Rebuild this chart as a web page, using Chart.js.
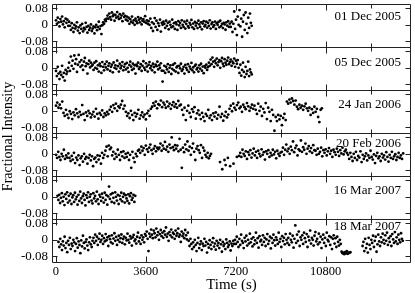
<!DOCTYPE html>
<html>
<head>
<meta charset="utf-8">
<script src="https://cdn.jsdelivr.net/npm/chart.js@4.4.1/dist/chart.umd.min.js"></script>
<style>
  body { margin: 0; background: #fff; }
  canvas { display: block; }
</style>
</head>
<body>
<canvas id="chart" width="415" height="293"></canvas>
<script>
// observation dates, one panel each
const panelLabels = ['01 Dec 2005', '05 Dec 2005', '24 Jan 2006', '20 Feb 2006', '16 Mar 2007', '18 Mar 2007'];
// first sample time and cadence of each run (s)
const startTimes = [0, 0, 0, 0, 60, 100];
const timeSteps = [35, 35, 50, 45, 35, 35];

// fractional intensity in thousandths, null = no data
const dec01 = [22, 5, 35, 12, -8, 28, 15, 40, 2, 18, -12, 30, 10, 25, -5, 15,
  -5, -25, 8, -15, -35, 0, -18, -8, 12, -28, -12, -40, -3, -20, 5, -32, -15, -22, 10, -10,
  -38, -5, -25, -14, 2, -30, -18, -8, -42, -12, 0, -26, -10, 15, -20, -6,
  -45,
  -2, 12, 5, 25, 18, 30,
  45, 30, 55, 38, 25, 60, 42, 50, 20, 48, 35, 62, 40, 28, 52, 33, 45, 18, 55, 38, 44, 25, 40,
  20, 35, 5, 28, 15, 40, 10, 22, 0, 30, 18, 8, 38, 25, 12, 32, 2, 20, 28, 15, 42, 10, 22, 5, 18,
  0, 30, -15, 12, -30, 5, 33, -10, 20, -25, 8, -5, 25, -33, 10, 0, 15,
  5, -15, 20, -5, 10, -22, 15, 0, -12, 25, -8, 8, -20, 12, 2, -25, 18, -3, 10, -15,
  22, 0, -10, 15, -18, 5, 20, -6, -14, 10, 0, 24, -12, 6, -20, 14, -4, 8, -16, 20,
  2, -10, 12, -22, 6, 18, -8, 0, 15, -14, 10, -5, 22, -18, 4, 12, -10, -2, 16, -20,
  8, 0, 14, -12, 20, -6, 5, -16, 10, 2, -24, 12, -4, 18, -10, 6,
  -10, 15, -35, 5, 65, -20, 25, -50, 40, 0, 72, -8, 30, -58, 15, 48, -25, 60, 5, -40, 35, -15, 55, 10, -5];

const dec05 = [-15, -40, 5, -28, -55, -20, -35, 10, -45, -25, -62, -10, -30, -18,
  0, 25, -15, 55, 10, 35, -5, 60, 20, 42, -20, 15, 63, 28, 5, 38, 12, -10, 30, 48, 8, 22, -28, 18, 35, 2, 25, 10,
  15, -10, 25, 0, 32, -5, 12, -18, 20, 8, -25, 28, 5, -12, 18, 2, 30, -8, 10, 22,
  -15, 5, 15, -22, 26, 0, 12, -5, 35, 8, -18, 20, -2, 10, 28, -12, 5, 18, -8, 24,
  0, -20, 14, 30, 6, -10, 20, -4, 12, -28, 16, 8, 25, -6, 2, 18, -15, 10, 32, 0,
  -10, 22, 6, -18, 14, 28, -2, 10, -12, 20, 4, -22, 16, 8, 30, -8, 12, 0, 22, -14,
  -67,
  -15, 10, -25, 5, -8, 18, -20, 0, 12, -30, -5, 15, -12, 22, -18, 2, 8, -25, 10, -3,
  20, -15, -8, 5, -28, 14, 0, -10, 18, -20, 6, -5, 24, -12, 2, -22, 10, 16, -8, 0,
  -18, 12, -4, 20, -14, 6, -26, 8, 0, 15, -10, 4,
  25, 10, 40, 18, 50, 30, 5, 35, 22, 45, 12, 28, 38, 0, 32, 48, 20, 8, 42, 25,
  15, 35, 50, 18, 28, 40, 10, 30, 22, 45, 5, 35, 20, 38,
  0, -25, 15, -38, -10, 25, -20, -45, 5, -30, -15, 30, -40, -8, -22, -32];

const jan24 = [25, 40, 15, 30, 12, 45,
  -10, -25, 5, -18, -35, -2, -15, -40, -8, -22, 8, -12, -30, -5, -20, 28, -15, -45, -8, -25,
  0, -12, -32, -18, -5, -28, 10, -15, -38, -10, -20, 2, -30, -12, -22, -5, -16,
  5, 20, -5, 28, 12, 35, 0, 22, 15, 30, 48, 10, 25,
  -5, -25, -12, -35, 0, -20, -45, -10, -28, -15, 5, -38, -22, -8, -30, -18, -42, -12, 0, -25, 10,
  20, 38, 25, 45, 12, 32, 28, 50, 18, 40, 30, 15, 45, 22, 35, 10, 28, 42, 20, 33, 15, 48, 25, 30,
  5, -20, 15, -45, 0, 25, -10, -30, 8, -5, 18, -38, -12, 2,
  -20, -40, -10, -30, -50, -15, -25, 5, -35, -22, -45, -12, -28, -8, -38, -20, 20, -30, -15, -48, -25, -5, -32, -18,
  10, 25, -2, 35, 15, 5, 28, 40, 12, 20, -5, 30, 18, 8, 38, 22, 0, 15, 30, 10, 25,
  5, -15, 35, 0, 20, -25, 10, -8, 38, -40, 15, -5, -50, 5, -20,
  -97,
  -30, -50, -20, -42, -25, -70, -35, -15, -45,
  45, 35, 55, 40, 60, 48, 30, 50,
  20, 8, 30, 15, 25, 5, 22, 35, 12,
  0, 15, -20, 8, -10, 20, -5, 10, -30, -55, 5, 12];

const feb20 = [-5, -20, 10, -15, -30, 0, -12, 20, -25, -8, -18, 2,
  -20, -35, -10, -28, 5, -45, -18, -30, -8, -55, -22, -12, -38, 0, -25, -15, -48, -20, -5, -32,
  -12, -60, -25, -18, -40, -8, -28,
  -10, -48, 5, -20, -5, 15, 35, -12, 40, 22, 30, -8, 10, -25, 0, -15, 20, -5, -30, 8, -12, 12, -20, 0,
  -15, 5, -30, -5, -68, 10, -20, -40, 0, -12, 15,
  20, 5, 35, 15, 28, -5, 40, 22, 10, 30, 45, 18, 0, 25, 38, 12, 30, 22,
  30, 50, 15, 40, 25, 58, 20, 35, 10, 45, 28, 80, 32, 18, 42,
  25, 40, 12, 73, 20, -68, 30, 8, 45, 22, 60, 15, 35, -5, 28, 50, 10, -30, 25, 38, 18, 5, 42, -20, 30, 15,
  -5, -15, 5, -22, -10, 0,
  null, null, null, null, null, null, null,
  -40, null, -75, null, -30, -55, null, -20, null, -60, null, null, -48, null, null, -15, null, -10,
  5, -15, 20, 0, -10, 12, -25, 8, -5, 18, -18, 2, 25, -8, 10, -20, 15, 0, -12, 22,
  -5, 8, -28, 12, 0, 18, -15, 5, -8, 20, -3, 10, -22, 15, 0, -10, 6,
  10, 30, -5, 20, 45, 12, 25, 0, 35, 18, 60, 8, 28, 40, -8, 22, 15, 65, 10, 32,
  20, 50, 0, 25, 38, 12, 28, 5, 42, 18,
  15, -5, 25, 0, 10, 30, -12, 18, 5, 22, -8, 12, 28, 0, 15, -15, 20, 8, -5, 25,
  10, -10, 18, 2, 30, -3, 12, 20, 5,
  -5, -25, 5, -15, -35, 0, -20, 10, -30, -10, -18, 12, -40, -5, -25, -12, 2, -32, -8, -20,
  15, -15, -28, -3, -45, -10, 5, -22, -12, -35, 0, -18, -8, -28, 8, -15, -38, -5, -20, 10,
  -25, -12, -2, -30, -15, 5, -20, -8, -25, 2];

const mar16 = [5, -15, 10, -30, -5, 18, -22, 0, -40, 12,
  -10, 22, -28, 5, -18, 15, -35, -3, 8, -25,
  20, -12, 0, -38, 10, -20, 25, -8, -30, 3,
  15, -15, -42, 8, -5, 22, -25, 0, 12, -18,
  -32, 18, -8, 5, -22, 25, -12, -35, 10, 0,
  -20, 15, -5, -28, 20, -15, 8, -38, 2, 50,
  -10, 12, -25, 18, -5, -30, 22, 0, -18, 10,
  -35, 5, -12, 20, -22, 0, 15, -28, 8, -8,
  -20, 12, -32, 3, 18, -15, -5, 10, -25, 5];

const mar18 = [-10, -35, 5, -22, -50, -8, -28, 15, -40, -15,
  -60, -5, -25, 10, -45, -18, -30, 0, -12, -55,
  -20, 8, -38, -8, -25, -65, -3, -32, 20, -15,
  -42, -10, 2, -28, -50, -12, 12, -22, -35, -5,
  10, -15, 25, -5, 15, -25, 5, 30, -10, 0,
  20, -20, 8, -8, 28, -2, 12, -30, 18, 3,
  -12, 22, -18, 6, 32, -5, 14, -25, 0, 20,
  -10, 8, 26, -15, 4, 16, -22, 10, -3, 30,
  0, -14, 18, 6, -28, 12, 24, -6, 2, -18,
  15, 35, -8, 10, -20, 22, 0, 12, -12, 28,
  20, 40, 5, -55, 30, 15, 50, 25, 8, 45,
  32, 12, 55, 22, 38, 0, 28, 48, 18, 35,
  10, 42, 25, 60, 15, 30, -5, 38, 22, 50,
  12, 35, 28, 5, 45, 20, 32, 55, 15, 25,
  -10, 40, 18, 30, 8, 48, 22, 2, 35,
  -5, -30, 5, -20, -45, -12, -35, 0, -25, -55,
  -15, 10, -40, -22, -8, -50, -18, -30, 5, -28,
  -10, -62, -20, -38, -2, -25, -45, -12, 8, -33,
  -18, -48, -5, -28, -15, -40, 0, -22, -58, -10,
  -30, -20, -45, 2, -15, -35, -25, -8, -52, -18,
  -30, -5, -20,
  0, -20, 15, -10, -35, 5, -25, 25, -5, -15,
  -40, 10, -8, 20, -28, 0, -18, 30, -12, 5,
  -32, 12, -22, -3, 35, -15, 8, -38, 18, -8,
  0, -25, 22, -10, 10, -30, 2, 28, -20, -5,
  15, -42, 8, -15, 25, -2, -28, 12, 0, -20,
  35, -10, 5, -35, 18, -6, 10, -22, 28, 0,
  -15,
  10, -25, 30, 0, -12, 20, -38, 5, 70, -15,
  25, -5, 40, -30, 12, 0, 22, -20, 35, 8,
  -10, 28, -35, 15, -3, 45, -18, 10, 0, -28,
  20, 38, -8, 5, -22, 30, -12, 15, -40, 2,
  25, -15, 10, -30, 35, 0, -8, 18, -25, 12,
  -45, 5, 22, -18, 8, -35, 15, -10, -28, 0,
  -20,
  -58, -65, -62, -70, -60, -66, -55, -68, -63, -64, -60,
  null, null, null, null, null, null, null, null, null, null, null, null, null,
  -30, -10, -55, 5, -40, -20, -62, 10, -25, -45,
  0, -15, 20, -35, -5, 15, -58, -22, 25, -8,
  -30, 12, -12, 30, 0, -18, 22, -5, 35, -25,
  8, -10, 18, -30, 28, 2, -15, 38, -8, 12,
  -20, 25, 0, -12, 32, 5, -5];

const xTickValues = [0, 3600, 7200, 10800];
const xMinorTicks = [0, 1800, 3600, 5400, 7200, 9000, 10800, 12600];
const yTickValues = [-0.08, 0, 0.08];

const series = [dec01, dec05, jan24, feb20, mar16, mar18];
// how far below the panel top each date label sits
const labelOffsets = [13, 15.5, 15, 11, 15, 8];

const serif = '"Liberation Serif", "DejaVu Serif", serif';

// Составляем наборы точек для каждой панели
const datasets = series.map((vals, i) => {
  const pts = [];
  vals.forEach((v, k) => {
    if (v !== null) pts.push({ x: startTimes[i] + k * timeSteps[i], y: v / 1000 });
  });
  return {
    label: panelLabels[i],
    data: pts,
    yAxisID: 'y' + i,
    pointRadius: 1.4,
    pointBorderWidth: 0,
    pointBackgroundColor: '#000',
    showLine: false
  };
});

const scales = {
  x: {
    type: 'linear',
    min: -160,
    max: 14220,
    grid: { display: false, drawTicks: false },
    border: { display: false },
    afterBuildTicks: s => { s.ticks = xTickValues.map(v => ({ value: v })); },
    afterFit: s => { s.height = 31; s.paddingLeft = 0; s.paddingRight = 0; },
    ticks: {
      autoSkip: false, maxRotation: 0, padding: 2, color: '#000',
      font: { family: serif, size: 12.5 },
      callback: v => String(v)
    }
  }
};

panelLabels.forEach((_, i) => {
  scales['y' + i] = {
    type: 'linear',
    position: 'left',
    stack: 'panels',
    stackWeight: 1,
    weight: 6 - i,
    min: -0.108,
    max: 0.1015,
    grid: { display: false, drawTicks: false },
    border: { display: false },
    afterBuildTicks: s => { s.ticks = yTickValues.map(v => ({ value: v })); },
    afterFit: s => { s.width = 52; s.paddingTop = 0; s.paddingBottom = 0; },
    ticks: {
      autoSkip: false, padding: 4, color: '#000',
      font: { family: serif, size: 13 },
      callback: v => v === 0 ? '0' : v.toFixed(2)
    }
  };
});

// рамки панелей, засечки внутрь и подписи
const framePlugin = {
  id: 'frames',
  afterDatasetsDraw(chart) {
    const ctx = chart.ctx;
    const xs = chart.scales.x;
    const left = Math.round(chart.chartArea.left) + 0.5;
    const right = Math.round(chart.chartArea.right) - 0.5;
    ctx.save();
    ctx.strokeStyle = '#222';
    ctx.lineWidth = 1;
    for (let i = 0; i < series.length; i++) {
      const ys = chart.scales['y' + i];
      const top = Math.round(ys.top) + 0.5;
      const bottom = Math.round(ys.bottom) + 0.5;
      ctx.beginPath();
      ctx.rect(left, top, right - left, bottom - top);
      xMinorTicks.forEach(t => {
        const px = Math.round(xs.getPixelForValue(t)) + 0.5;
        const len = t % 3600 === 0 ? 6 : 4;
        ctx.moveTo(px, top); ctx.lineTo(px, top + len);
        ctx.moveTo(px, bottom); ctx.lineTo(px, bottom - len);
      });
      yTickValues.forEach(v => {
        const py = Math.round(ys.getPixelForValue(v)) + 0.5;
        ctx.moveTo(left, py); ctx.lineTo(left + 5, py);
        ctx.moveTo(right, py); ctx.lineTo(right - 5, py);
      });
      ctx.stroke();

      ctx.fillStyle = '#000';
      ctx.font = '13px ' + serif;
      ctx.textAlign = 'right';
      ctx.textBaseline = 'middle';
      ctx.fillText(panelLabels[i], 401, ys.top + labelOffsets[i]);
    }

    ctx.font = '15px ' + serif;
    ctx.textAlign = 'center';
    ctx.fillText('Time (s)', (chart.chartArea.left + chart.chartArea.right) / 2, 285);

    ctx.translate(8, 136.5);
    ctx.rotate(-Math.PI / 2);
    ctx.font = '14px ' + serif;
    ctx.fillText('Fractional Intensity', 0, 0);
    ctx.restore();
  }
};

const ctx = document.getElementById('chart').getContext('2d');
new Chart(ctx, {
  type: 'scatter',
  data: { datasets: datasets },
  options: {
    responsive: false,
    animation: false,
    layout: { padding: { top: 3, right: 1, left: 0, bottom: 0 } },
    plugins: { legend: { display: false }, tooltip: { enabled: false } },
    scales: scales
  },
  plugins: [framePlugin]
});
</script>
</body>
</html>
